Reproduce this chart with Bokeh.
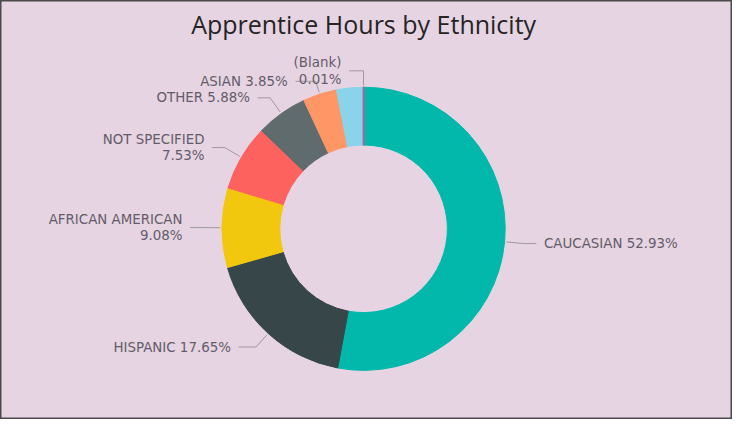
import math
from bokeh.plotting import figure
from bokeh.models import Range1d, ColumnDataSource
from bokeh.core.properties import value
from bokeh.embed import file_html
from bokeh.resources import INLINE

# ---- data ----
title_text = "Apprentice Hours by Ethnicity"
categories = ["CAUCASIAN", "HISPANIC", "AFRICAN AMERICAN", "NOT SPECIFIED",
              "OTHER", "ASIAN", "UNLABELED", "(Blank)"]
shares = [52.93, 17.65, 9.08, 7.53, 5.88, 3.85, 3.07, 0.01]
colors = ["#01B8AA", "#374649", "#F2C80F", "#FD625E",
          "#5F6B6D", "#FE9666", "#8AD4EB", "#A66999"]
show_label = [True, True, True, True, True, True, False, True]
wrapped = ["AFRICAN AMERICAN", "NOT SPECIFIED", "(Blank)"]

# ---- layout / style ----
W, H = 732, 419
REF_W, REF_H = 748, 435
S = H / REF_H
CX, CY = 377, REF_H - 237
R_IN, R_OUT = 87, 147
BG = "#E6D4E3"
LABEL_COLOR = "#645C68"
LEADER_COLOR = "#A0979F"
LABEL_FONT = "DejaVu Sans"
LABEL_SIZE = "13.4px"
LINE_GAP = 17
leader_tweak = {"HISPANIC": (166, 18), "ASIAN": (161, 21), "(Blank)": (164, 15)}
DEFAULT_RE, DEFAULT_H = 167, 13

xw = W / S
p = figure(width=W, height=H, x_range=Range1d(CX - xw / 2 + 3, CX + xw / 2 + 3),
           y_range=Range1d(0, REF_H), output_backend="svg", toolbar_location=None,
           x_axis_location=None, y_axis_location=None, min_border=0)
p.grid.visible = False
p.background_fill_color = BG
p.border_fill_color = BG
p.outline_line_color = "#4A4A4A"
p.outline_line_width = 2

total = sum(shares)
starts, ends, mids = [], [], []
cum = 0.0
for v in shares:
    a0 = cum / total
    cum += v
    a1 = cum / total
    starts.append(math.pi / 2 - 2 * math.pi * a0)
    ends.append(math.pi / 2 - 2 * math.pi * a1)
    mids.append(2 * math.pi * (a0 + a1) / 2)  # clockwise from top

src = ColumnDataSource(dict(start=starts, end=ends, color=colors, cat=categories,
                            lw=[1.0 if v >= 1 else 2.0 for v in shares]))
p.annular_wedge(x=CX, y=CY, inner_radius=R_IN, outer_radius=R_OUT,
                start_angle="start", end_angle="end", direction="clock",
                fill_color="color", line_color="color", line_width="lw", source=src)

# leaders and labels
lx, ly = [], []
tl_x, tl_y, tl_t, tl_a = [], [], [], []
for cat, v, th, show in zip(categories, shares, mids, show_label):
    if not show:
        continue
    re_, h = leader_tweak.get(cat, (DEFAULT_RE, DEFAULT_H))
    dx, dy = math.sin(th), math.cos(th)
    side = 1 if dx > 0 else -1
    x0, y0 = CX + 149 * dx, CY + 149 * dy
    xe, ye = CX + re_ * dx, CY + re_ * dy
    xh = xe + side * h
    lx.append([x0, xe, xh])
    ly.append([y0, ye, ye])
    pct = f"{v:.2f}%"
    lines = [cat, pct] if cat in wrapped else [f"{cat} {pct}"]
    tx = xh + side * 8
    n = len(lines)
    for i, t in enumerate(lines):
        tl_x.append(tx)
        tl_y.append(ye + (n - 1) * LINE_GAP / 2 - i * LINE_GAP)
        tl_t.append(t)
        tl_a.append("left" if side > 0 else "right")

p.multi_line(xs=lx, ys=ly, line_color=LEADER_COLOR, line_width=1)
p.text(x="x", y="y", text="t", text_align="a",
       source=ColumnDataSource(dict(x=tl_x, y=tl_y, t=tl_t, a=tl_a)),
       text_baseline="middle", text_color=LABEL_COLOR,
       text_font=value(LABEL_FONT), text_font_size=LABEL_SIZE)

p.text(x=[CX], y=[REF_H - 24], text=[title_text], text_align="center",
       text_baseline="middle", text_color="#252423",
       text_font=value("Open Sans"), text_font_size="25px")

open("out.html", "w").write(file_html(p, INLINE))
